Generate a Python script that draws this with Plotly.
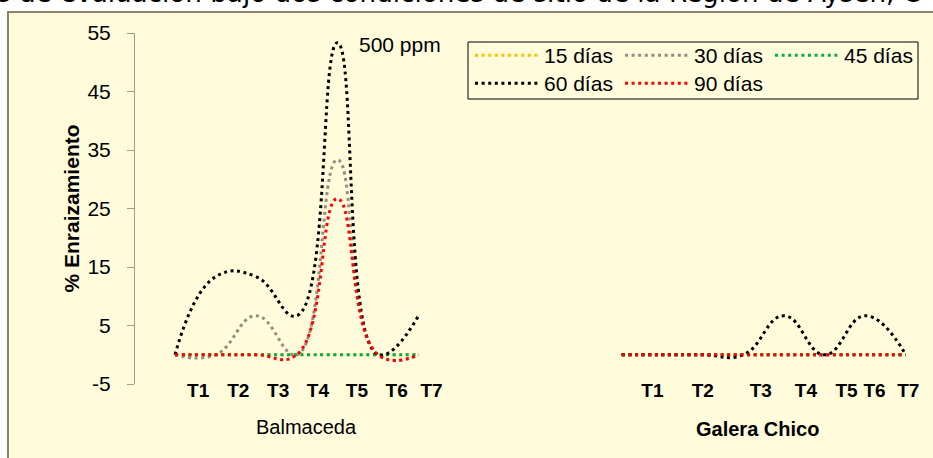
import plotly.graph_objects as go

# Category positions on the shared x axis (Balmaceda block, gap, Galera Chico block)
x_balmaceda = [0, 1, 2, 3, 4, 5, 6]
x_galera = [11, 12, 13, 14, 15, 16, 17, 18]

# % rooting per evaluation date
d15_bal = [0, 0, 0, 0, 0, 0, 0]
d15_gal = [0, 0, 0, 0, 0, 0, 0, 0]
d30_bal = [0, 0, 6.67, 0, 33.33, 0, 0]
d30_gal = [0, 0, 0, 0, 0, 0, 0, 0]
d45_bal = [0, 0, 0, 0, 0, 0, 0]
d45_gal = [0, 0, 0, 0, 0, 0, 0, 0]
d60_bal = [0, 13.33, 13.33, 6.67, 53.33, 0, 6.67]
d60_gal = [0, 0, 0, 0, 6.67, 0, 6.67, 0]
d90_bal = [0, 0, 0, 0, 26.67, 0, 0]
d90_gal = [0, 0, 0, 0, 0, 0, 0, 0]

series_names = ["15 días", "30 días", "45 días", "60 días", "90 días"]
series_colors = ["#FFC000", "#988B7D", "#00B050", "#000000", "#FF0000"]
series_bal = [d15_bal, d30_bal, d45_bal, d60_bal, d90_bal]
series_gal = [d15_gal, d30_gal, d45_gal, d60_gal, d90_gal]
# legend row for each series (first row holds three entries, second row two)
series_legend = ["legend", "legend", "legend", "legend2", "legend2"]

# Treatment labels under each site
tick_pos = [0.57, 1.56, 2.54, 3.52, 4.48, 5.46, 6.32,
            11.76, 13.0, 14.43, 15.54, 16.54, 17.23, 18.06]
tick_text = ["T1", "T2", "T3", "T4", "T5", "T6", "T7",
             "T1", "T2", "T3", "T4", "T5", "T6", "T7"]

y_ticks = [-5, 5, 15, 25, 35, 45, 55]
y_tick_text = ["-5", "5", "15", "25", "35", "45", "55"]

FONT = "Liberation Sans, Arial, sans-serif"
BG = "#FFFBDB"

fig = go.Figure()
for name, color, yb, yg, lg in zip(series_names, series_colors, series_bal,
                                    series_gal, series_legend):
    fig.add_trace(go.Scatter(
        x=x_balmaceda + [None] + x_galera,
        y=yb + [None] + yg,
        mode="lines",
        name=name,
        legend=lg,
        line=dict(color=color, width=3, dash="3px,3.6px", shape="spline", smoothing=1.3),
        connectgaps=False,
    ))

W, H = 933, 458
ML, MR, MT, MB = 135, 8, 33, 74
PW, PH = W - ML - MR, H - MT - MB


def px_x(p):
    return (p - ML) / PW


def px_y(p):
    return (H - MB - p) / PH


legend_common = dict(
    orientation="h", xanchor="left", yanchor="top",
    bgcolor="rgba(0,0,0,0)", borderwidth=0,
    font=dict(family=FONT, size=21, color="#000000"),
    entrywidth=71, entrywidthmode="pixels",
    itemwidth=64, traceorder="normal",
)

fig.update_layout(
    width=W, height=H,
    margin=dict(l=ML, r=MR, t=MT, b=MB, pad=0, autoexpand=False),
    paper_bgcolor="white",
    plot_bgcolor="rgba(0,0,0,0)",
    font=dict(family=FONT, size=21, color="#000000"),
    showlegend=True,
    legend=dict(x=px_x(470), y=px_y(35), **legend_common),
    legend2=dict(x=px_x(470), y=px_y(63), **legend_common),
    xaxis=dict(
        range=[(135 - 175) / 40.6, (925 - 175) / 40.6],
        showgrid=False, zeroline=False, showline=False,
        tickmode="array", tickvals=tick_pos, ticktext=tick_text,
        ticks="", tickfont=dict(family=FONT, size=19, color="#000000", weight="bold"),
        anchor="free", position=0.02,
    ),
    yaxis=dict(
        range=[-5, 55],
        tickmode="array", tickvals=y_ticks, ticktext=y_tick_text,
        showgrid=False, zeroline=False,
        showline=True, linecolor="#A8998A", linewidth=1,
        ticks="outside", ticklen=7, tickcolor="#A8998A",
        ticklabelstandoff=12,
        tickfont=dict(family=FONT, size=21, color="#000000"),
        title=dict(text="% Enraizamiento", standoff=2,
                   font=dict(family=FONT, size=21, color="#000000", weight="bold")),
    ),
    shapes=[
        # chart area background and frame
        dict(type="rect", xref="paper", yref="paper", layer="below",
             x0=px_x(8), x1=px_x(945), y0=px_y(470), y1=px_y(12),
             fillcolor=BG, line=dict(color="#8E7F6E", width=2)),
        # frame around the legend rows
        dict(type="rect", xref="paper", yref="paper", layer="below",
             x0=px_x(468), x1=px_x(918), y0=px_y(99), y1=px_y(42),
             fillcolor=BG, line=dict(color="#000000", width=1)),
    ],
    annotations=[
        dict(text="s de evaluación bajo dos condiciones de sitio de la Región de Aysén, C",
             xref="paper", yref="paper", x=px_x(-5), y=px_y(10),
             xanchor="left", yanchor="bottom", showarrow=False,
             font=dict(family="DejaVu Sans", size=26.2, color="#000000")),
        dict(text="500 ppm", xref="paper", yref="paper", x=px_x(400), y=px_y(44),
             xanchor="center", yanchor="middle", showarrow=False,
             font=dict(family=FONT, size=21, color="#000000")),
        dict(text="Balmaceda", xref="paper", yref="paper", x=px_x(306.5), y=px_y(427),
             xanchor="center", yanchor="middle", showarrow=False,
             font=dict(family=FONT, size=20, color="#000000")),
        dict(text="<b>Galera Chico</b>", xref="paper", yref="paper", x=px_x(757), y=px_y(429),
             xanchor="center", yanchor="middle", showarrow=False,
             font=dict(family=FONT, size=20, color="#000000")),
    ],
)

fig.write_html("out.html")
